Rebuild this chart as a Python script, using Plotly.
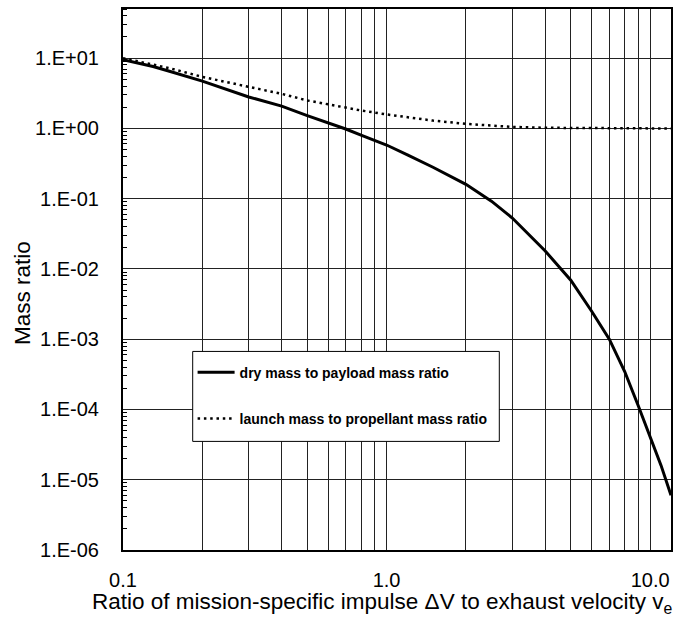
import math
import plotly.graph_objects as go

# Ratio of mission delta-V to exhaust velocity
x_dry = [0.1, 0.13, 0.15, 0.2, 0.3, 0.4, 0.5, 0.6, 0.7, 0.8, 0.9, 1.0, 1.2, 1.5, 2.0,
         2.5, 3.0, 4.0, 5.0, 6.0, 7.0, 8.0, 9.0, 10.0, 11.0, 12.0]
# dry mass / payload mass
y_dry = [9.5, 7.6, 6.5, 4.7, 2.8, 2.07, 1.52, 1.2, 0.98, 0.8, 0.68, 0.58, 0.42, 0.28, 0.16,
         0.092, 0.053, 0.018, 0.0069, 0.0025, 1.0e-3, 3.5e-4, 1.15e-4, 4.0e-5, 1.6e-5, 6.0e-6]

x_launch = [0.1, 0.15, 0.2, 0.3, 0.4, 0.5, 0.6, 0.7, 0.8, 1.0, 1.5, 2.0, 2.5, 3.0,
            4.0, 5.0, 6.0, 8.0, 10.0, 12.0]
# launch mass / propellant mass
y_launch = [10.0, 7.2, 5.4, 3.9, 3.1, 2.5, 2.2, 2.0, 1.8, 1.58, 1.29, 1.16, 1.09, 1.05,
            1.02, 1.01, 1.0, 1.0, 1.0, 1.0]

series_names = ["dry mass to payload mass ratio", "launch mass to propellant mass ratio"]

# axis ticks
x_grid = [m * 10 ** e for e in (-1, 0) for m in range(1, 10)] + [10.0]
x_labels = {0.1: "0.1", 1.0: "1.0", 10.0: "10.0"}
y_major = [1e-6, 1e-5, 1e-4, 1e-3, 1e-2, 1e-1, 1e0, 1e1]
y_major_text = ["1.E-06", "1.E-05", "1.E-04", "1.E-03", "1.E-02", "1.E-01", "1.E+00", "1.E+01"]
y_minor = [m * 10 ** e for e in range(-6, 2) for m in range(2, 10) if m * 10 ** e <= 50]

x_title = "Ratio of mission-specific impulse ΔV to exhaust velocity v<sub>e</sub>"
y_title = "Mass ratio"

FONT = "Liberation Sans, Arial, sans-serif"

# plot-area geometry in pixels, used to place paper-referenced items
W, H = 680, 618
L, R, T, B = 123, 9, 7, 68
PW, PH = W - L - R, H - T - B


def px(xp):
    return (xp - L) / PW


def py(yp):
    return (H - B - yp) / PH


fig = go.Figure()
fig.add_trace(go.Scatter(
    x=x_dry, y=y_dry, mode="lines", name=series_names[0], legendgroup="a",
    line=dict(color="black", width=3),
))
fig.add_trace(go.Scatter(
    x=x_launch, y=y_launch, mode="lines", name=series_names[1], legendgroup="b",
    line=dict(color="black", width=2.5, dash="2.5px,3.8px"),
))

# framed legend box
fig.add_shape(type="rect", xref="paper", yref="paper",
              x0=px(192.7), x1=px(499.3), y0=py(441), y1=py(350.7),
              line=dict(color="black", width=1), fillcolor="white", layer="above")

fig.add_annotation(text=x_title, xref="paper", yref="paper",
                   x=px(382), y=py(603), xanchor="center", yanchor="middle",
                   showarrow=False, font=dict(size=22.5))
fig.add_annotation(text=y_title, xref="paper", yref="paper",
                   x=px(22.5), y=py(292.5), xanchor="center", yanchor="middle",
                   textangle=-90, showarrow=False, font=dict(size=22.5))

fig.update_layout(
    width=W, height=H,
    margin=dict(l=L, r=R, t=T, b=B),
    paper_bgcolor="white", plot_bgcolor="white",
    font=dict(family=FONT, color="black", size=20),
    showlegend=True,
    legend=dict(
        x=0.127, y=py(356), xanchor="left", yanchor="top",
        bgcolor="rgba(0,0,0,0)", borderwidth=0,
        font=dict(family=FONT, size=14, weight="bold"),
        tracegroupgap=25, itemwidth=37,
    ),
)

fig.update_xaxes(
    type="log", range=[-1, math.log10(12)],
    tickmode="array", tickvals=x_grid,
    ticktext=[x_labels.get(round(v, 6), "") for v in x_grid],
    ticks="", ticklabelstandoff=11,
    showgrid=True, gridcolor="#222", gridwidth=1,
    showline=True, mirror=True, linecolor="black", linewidth=2,
    zeroline=False,
)
fig.update_yaxes(
    type="log", range=[-6, math.log10(50)],
    tickmode="array", tickvals=y_major, ticktext=y_major_text,
    ticks="", ticklabelstandoff=18,
    showgrid=True, gridcolor="#222", gridwidth=1,
    minor=dict(tickmode="array", tickvals=y_minor, ticks="inside", ticklen=4,
               tickcolor="black", showgrid=False),
    showline=True, mirror=True, linecolor="black", linewidth=2,
    zeroline=False,
)

fig.write_html("out.html")
